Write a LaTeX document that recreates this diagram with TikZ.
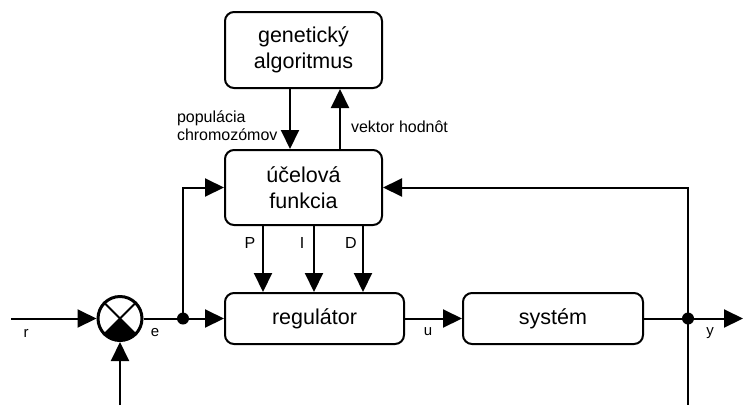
\documentclass[tikz,border=0pt]{standalone}
\usepackage{fontspec}
\setmainfont{Liberation Sans}
\usetikzlibrary{arrows.meta}
\begin{document}
\begin{tikzpicture}[x=1pt,y=-1pt, line width=2pt,
  blk/.style={draw, rounded corners=9pt, align=center, font=\fontsize{21.5}{26}\selectfont, inner sep=0pt},
  lbl/.style={font=\fontsize{16}{18}\selectfont, inner sep=0pt},
  sml/.style={font=\fontsize{15}{17}\selectfont, inner sep=0pt},
  arr/.style={-{Triangle[length=19pt,width=18pt]}}]
\useasboundingbox (0,0) rectangle (743,405);
% blocks
\node[blk, minimum width=157pt, minimum height=76pt] (ga) at (303.5,50) {genetický\\algoritmus};
\node[blk, minimum width=157pt, minimum height=75pt] (uf) at (303.5,187.5) {účelová\\funkcia};
\node[blk, minimum width=179pt, minimum height=51pt] (reg) at (314.5,318.5) {regulátor};
\node[blk, minimum width=180pt, minimum height=51pt] (sys) at (553,318.5) {systém};
% summing junction
\node[draw, circle, minimum size=44pt, inner sep=0pt, line width=3pt] (sum) at (120,318.5) {};
\begin{scope}
  \clip (sum.center) circle (22);
  \fill (sum.center) -- ++(-40,40) -- ++(80,0) -- cycle;
\end{scope}
\draw (sum.north west) -- (sum.south east);
\draw (sum.north east) -- (sum.south west);
% coordinates
\coordinate (rin) at (11,318.5);
\coordinate (edot) at (183,318.5);
\coordinate (ydot) at (688,318.5);
\coordinate (yout) at (743,318.5);
\coordinate (ybot) at (688,405);
\coordinate (sbot) at (120,405);
% GA <-> objective
\draw[arr] ([xshift=-13.5pt]ga.south) -- ([xshift=-13.5pt]uf.north);
\draw[arr] ([xshift=36.5pt]uf.north) -- ([xshift=36.5pt]ga.south);
\node[lbl, align=left, anchor=west] (pop) at (176,126) {populácia\\chromozómov};
\node[lbl, anchor=west] (vek) at (350,127) {vektor hodnôt};
% PID
\draw[arr] ([xshift=-40.5pt]uf.south) -- ([xshift=-40.5pt]uf.south |- reg.north);
\draw[arr] ([xshift=10.5pt]uf.south) -- ([xshift=10.5pt]uf.south |- reg.north);
\draw[arr] ([xshift=59.5pt]uf.south) -- ([xshift=59.5pt]uf.south |- reg.north);
\node[lbl] (lp) at (250,243) {P};
\node[lbl] (li) at (302,243) {I};
\node[lbl] (ld) at (351,243) {D};
% main loop
\draw[arr] (rin) -- (sum.west);
\draw (sum.east) -- (edot);
\draw[arr] (edot) -- (reg.west);
\draw[arr] (reg.east) -- (sys.west);
\draw[arr] (sys.east) -- (yout);
\draw[arr] (edot) |- (uf.west);
\draw[arr] (ydot) |- (uf.east);
\draw (ydot) -- (ybot);
\draw[arr] (sbot) -- (sum.south);
\fill (edot) circle (6);
\fill (ydot) circle (6);
% signal labels
\node[sml] (lr) at (26,333) {r};
\node[sml] (le) at (155,333) {e};
\node[sml] (lu) at (428,332) {u};
\node[sml] (ly) at (710,333) {y};
\end{tikzpicture}
\end{document}
